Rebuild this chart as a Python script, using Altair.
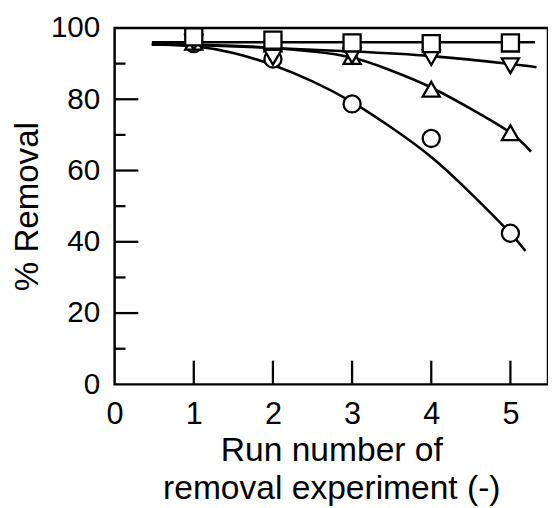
import altair as alt
import pandas as pd

# Measured points
run = [1, 2, 3, 4, 5]
circle_vals = [95.6, 91.3, 78.7, 69.0, 42.4]
up_vals = [96.0, 95.5, 92.0, 82.8, 70.6]
down_vals = [96.0, 91.8, 92.2, 91.7, 89.4]
square_vals = [97.5, 96.6, 95.8, 95.6, 95.8]

# Fitted curves
circle_fit_x = [0.47, 1.0, 1.5, 2.0, 2.5, 3.0, 3.5, 4.0, 4.5, 5.0, 5.19]
circle_fit_y = [95.4, 94.9, 93.0, 89.6, 85.0, 79.2, 72.0, 63.8, 53.6, 42.4, 37.4]
up_fit_x = [0.47, 1.0, 1.5, 2.0, 2.5, 3.0, 3.5, 4.0, 4.5, 5.0, 5.26]
up_fit_y = [95.4, 95.3, 95.0, 94.4, 93.4, 91.7, 88.0, 83.3, 77.3, 70.6, 65.3]
down_fit_x = [0.47, 1.0, 2.0, 3.0, 4.0, 5.0, 5.33]
down_fit_y = [95.4, 95.2, 94.4, 93.4, 92.1, 89.9, 89.0]
square_fit_x = [0.47, 5.31]
square_fit_y = [96.0, 96.0]

x_labels = [0, 1, 2, 3, 4, 5]
y_labels = [0, 20, 40, 60, 80, 100]
y_minor = [10, 30, 50, 70, 90]
x_major_ticks = [1, 2, 3, 4, 5]
y_major_ticks = [20, 40, 60, 80]

series = ["circle", "up", "down", "square"]
shapes = ["circle", "triangle-up", "triangle-down", "square"]

pts = pd.DataFrame({
    "x": run * 4,
    "y": circle_vals + up_vals + down_vals + square_vals,
    "s": [s for s in series for _ in run],
    "o": [i for i in range(4) for _ in run],
})

fits = []
for s, fx, fy in zip(series, [circle_fit_x, up_fit_x, down_fit_x, square_fit_x],
                     [circle_fit_y, up_fit_y, down_fit_y, square_fit_y]):
    for a, b in zip(fx, fy):
        fits.append({"x": a, "y": b, "s": s})
fits = pd.DataFrame(fits)

W, H = 439, 361
FONT = "Liberation Sans"

xs = alt.Scale(domain=[0, 5.475], nice=False, zero=False)
ys = alt.Scale(domain=[0, 100], nice=False)

xaxis = alt.Axis(values=x_labels, format="d", grid=False, ticks=False, domain=False,
                 labelFontSize=31, labelPadding=16, labelFont=FONT, labelColor="black",
                 labelFlush=False, labelOverlap=False,
                 title=["Run number of", "removal experiment (-)"], titleFont=FONT,
                 titleFontSize=34, titleFontWeight="normal", titleColor="black",
                 titleY=77, titleBaseline="alphabetic", titleLineHeight=39)
yaxis = alt.Axis(values=y_labels, format="d", grid=False, ticks=False, domain=False,
                 labelFontSize=30, labelPadding=15, labelFont=FONT, labelColor="black",
                 labelFlush=False, labelOverlap=False,
                 title="% Removal", titleFont=FONT, titleFontSize=33.5,
                 titleFontWeight="normal", titleColor="black",
                 titleX=-88, titleY=H / 2, titleBaseline="middle", titleAngle=270)

lines = alt.Chart(fits).mark_line(color="black", strokeWidth=2.6, interpolate="natural").encode(
    x=alt.X("x:Q", scale=xs, axis=xaxis),
    y=alt.Y("y:Q", scale=ys, axis=yaxis),
    detail="s:N",
)

points = alt.Chart(pts).mark_point(filled=True, fill="white", stroke="black",
                                   strokeWidth=2.3, opacity=1, size=300).encode(
    x=alt.X("x:Q", scale=xs, axis=xaxis),
    y=alt.Y("y:Q", scale=ys, axis=yaxis),
    shape=alt.Shape("s:N", scale=alt.Scale(domain=series, range=shapes), legend=None),
    order="o:Q",
)

ymaj = alt.Chart(pd.DataFrame({"y": y_major_ticks})).mark_rule(color="black", strokeWidth=2.3).encode(
    y=alt.Y("y:Q", scale=ys, axis=yaxis), x=alt.value(0), x2=alt.value(24))
ymin = alt.Chart(pd.DataFrame({"y": y_minor})).mark_rule(color="black", strokeWidth=2.3).encode(
    y=alt.Y("y:Q", scale=ys, axis=yaxis), x=alt.value(0), x2=alt.value(11))
xmaj = alt.Chart(pd.DataFrame({"x": x_major_ticks})).mark_rule(color="black", strokeWidth=2.3).encode(
    x=alt.X("x:Q", scale=xs, axis=xaxis), y=alt.value(H), y2=alt.value(H - 24))

chart = alt.layer(lines, ymaj, ymin, xmaj, points).properties(
    width=W, height=H,
    background="white",
    autosize=alt.AutoSizeParams(type="none"),
    padding={"left": 108, "top": 17, "right": 0, "bottom": 122},
).configure_view(stroke="black", strokeWidth=2.5)

chart.save("out.html", embed_options={"renderer": "svg", "actions": False})
